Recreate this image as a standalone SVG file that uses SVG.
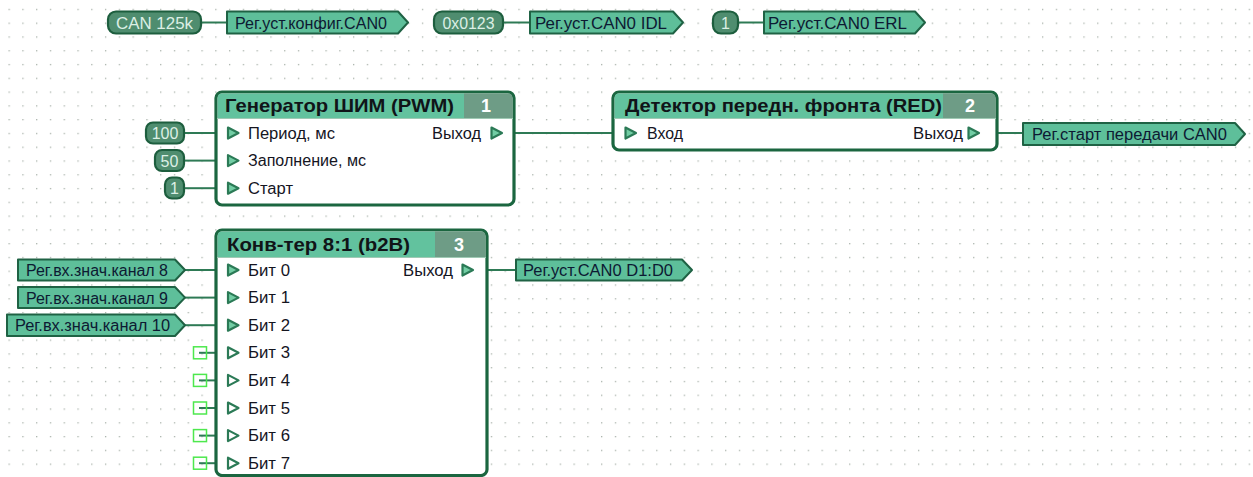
<svg xmlns="http://www.w3.org/2000/svg" width="1253" height="477" viewBox="0 0 1253 477">
<defs>
<pattern id="grid" x="8.5" y="8.8" width="13.78" height="13.78" patternUnits="userSpaceOnUse">
<rect x="0" y="0" width="1.3" height="1.3" fill="#a9b2ab"/>
</pattern>
<style>
.blk{fill:#ffffff;stroke:#1b6640;stroke-width:3.2}
.hdr{fill:#62c29e}
.num{fill:#6e9c86}
.htxt{font-family:"Liberation Sans",Arial,sans-serif;font-size:19px;font-weight:bold;fill:#101418}
.ntxt{font-family:"Liberation Sans",Arial,sans-serif;font-size:18px;font-weight:bold;fill:#ffffff;text-anchor:middle}
.lbl{font-family:"Liberation Sans",Arial,sans-serif;font-size:16px;fill:#15151f}
.pin{fill:#72cda4;stroke:#2b7a56;stroke-width:2.2;stroke-linejoin:round}
.pin0{fill:#ffffff;stroke:#2b7a56;stroke-width:2.2;stroke-linejoin:round}
.pill{fill:#4f8d6f;stroke:#1d5e3e;stroke-width:2.2}
.ptxt{font-family:"Liberation Sans",Arial,sans-serif;font-size:16px;fill:#dcefe5;text-anchor:middle}
.tag{fill:#5ebf9a;stroke:#1f6244;stroke-width:2;stroke-linejoin:round}
.ttxt{font-family:"Liberation Sans",Arial,sans-serif;font-size:16px;fill:#0d1a33}
.wire{stroke:#2e7a55;stroke-width:2;fill:none}
.stub{fill:none;stroke:#4de84d;stroke-width:1.5}
</style>
</defs>
<rect x="0" y="0" width="1253" height="477" fill="#ffffff"/>
<rect x="0" y="0" width="1253" height="477" fill="url(#grid)"/>

<g id="connectors">
<line class="wire" x1="201" y1="22.5" x2="227" y2="22.5"/>
<line class="wire" x1="503" y1="22.5" x2="530" y2="22.5"/>
<line class="wire" x1="738" y1="22.5" x2="764" y2="22.5"/>
<line class="wire" x1="184" y1="133" x2="216" y2="133"/>
<line class="wire" x1="184" y1="160.6" x2="216" y2="160.6"/>
<line class="wire" x1="184" y1="188.2" x2="216" y2="188.2"/>
<line class="wire" x1="514" y1="133" x2="613" y2="133"/>
<line class="wire" x1="997" y1="133" x2="1023" y2="133"/>
<line class="wire" x1="185" y1="270" x2="216" y2="270"/>
<line class="wire" x1="185" y1="297.6" x2="216" y2="297.6"/>
<line class="wire" x1="185" y1="325.2" x2="216" y2="325.2"/>
<line class="wire" x1="487" y1="270" x2="516" y2="270"/>
<line class="wire" x1="199" y1="352.8" x2="216" y2="352.8"/>
<line class="wire" x1="199" y1="380.4" x2="216" y2="380.4"/>
<line class="wire" x1="199" y1="408" x2="216" y2="408"/>
<line class="wire" x1="199" y1="435.6" x2="216" y2="435.6"/>
<line class="wire" x1="199" y1="463.2" x2="216" y2="463.2"/>
</g>

<g id="const_can125k">
<rect class="pill" x="108" y="11.5" width="93" height="22" rx="8"/>
<text class="ptxt" x="154.5" y="28.5" textLength="77" lengthAdjust="spacingAndGlyphs">CAN 125k</text>
</g>
<g id="tag_konfig">
<path class="tag" d="M227,11.5 H398 L408,22.5 L398,33.5 H227 Z"/>
<text class="ttxt" x="235" y="28.5" textLength="152" lengthAdjust="spacingAndGlyphs">Рег.уст.конфиг.CAN0</text>
</g>
<g id="const_0x0123">
<rect class="pill" x="434" y="11.5" width="69" height="22" rx="8"/>
<text class="ptxt" x="468.5" y="28.5" textLength="52" lengthAdjust="spacingAndGlyphs">0x0123</text>
</g>
<g id="tag_idl">
<path class="tag" d="M530,11.5 H673 L683,22.5 L673,33.5 H530 Z"/>
<text class="ttxt" x="535" y="28.5" textLength="132" lengthAdjust="spacingAndGlyphs">Рег.уст.CAN0 IDL</text>
</g>
<g id="const_1_top">
<rect class="pill" x="713" y="11.5" width="25" height="22" rx="8"/>
<text class="ptxt" x="725.5" y="28.5">1</text>
</g>
<g id="tag_erl">
<path class="tag" d="M764,11.5 H915 L925,22.5 L915,33.5 H764 Z"/>
<text class="ttxt" x="768" y="28.5" textLength="139" lengthAdjust="spacingAndGlyphs">Рег.уст.CAN0 ERL</text>
</g>

<g id="const_100">
<rect class="pill" x="146" y="122.5" width="38" height="21" rx="7"/>
<text class="ptxt" x="165" y="139">100</text>
</g>
<g id="const_50">
<rect class="pill" x="155" y="150" width="29" height="21" rx="7"/>
<text class="ptxt" x="169.5" y="166.5">50</text>
</g>
<g id="const_1">
<rect class="pill" x="165" y="177.5" width="19" height="21" rx="7"/>
<text class="ptxt" x="174.5" y="194">1</text>
</g>

<g id="block1">
<rect class="blk" x="216" y="92" width="298" height="113" rx="6"/>
<path class="hdr" d="M217.6,118 V98 Q217.6,93.6 222,93.6 H464 V118 Z"/>
<path class="num" d="M464,93.6 H508 Q512.4,93.6 512.4,98 V118 H464 Z"/>
<line x1="217" y1="118.5" x2="513" y2="118.5" stroke="#9fc9b4" stroke-width="1"/>
<text class="htxt" x="225" y="112" textLength="229" lengthAdjust="spacingAndGlyphs">Генератор ШИМ (PWM)</text>
<text class="ntxt" x="486" y="112">1</text>
<path class="pin" d="M228,127.5 L238.5,133 L228,138.5 Z"/>
<path class="pin" d="M228,155.1 L238.5,160.6 L228,166.1 Z"/>
<path class="pin" d="M228,182.7 L238.5,188.2 L228,193.7 Z"/>
<text class="lbl" x="248" y="138.5" textLength="87" lengthAdjust="spacingAndGlyphs">Период, мс</text>
<text class="lbl" x="248" y="166.1" textLength="118" lengthAdjust="spacingAndGlyphs">Заполнение, мс</text>
<text class="lbl" x="248" y="193.7" textLength="45" lengthAdjust="spacingAndGlyphs">Старт</text>
<text class="lbl" x="432" y="138.5" textLength="49" lengthAdjust="spacingAndGlyphs">Выход</text>
<path class="pin" d="M491.5,127.5 L502,133 L491.5,138.5 Z"/>
</g>

<g id="block2">
<rect class="blk" x="613" y="92" width="384" height="58" rx="6"/>
<path class="hdr" d="M614.6,118 V98 Q614.6,93.6 619,93.6 H943 V118 Z"/>
<path class="num" d="M943,93.6 H991 Q995.4,93.6 995.4,98 V118 H943 Z"/>
<line x1="614" y1="118.5" x2="996" y2="118.5" stroke="#9fc9b4" stroke-width="1"/>
<text class="htxt" x="625" y="112" textLength="317" lengthAdjust="spacingAndGlyphs">Детектор передн. фронта (RED)</text>
<text class="ntxt" x="970" y="112">2</text>
<path class="pin" d="M625.5,127.5 L636,133 L625.5,138.5 Z"/>
<text class="lbl" x="647" y="138.5" textLength="36" lengthAdjust="spacingAndGlyphs">Вход</text>
<text class="lbl" x="913" y="138.5" textLength="50" lengthAdjust="spacingAndGlyphs">Выход</text>
<path class="pin" d="M968.5,127.5 L979,133 L968.5,138.5 Z"/>
</g>
<g id="tag_start">
<path class="tag" d="M1023,123 H1235 L1245,134 L1235,145 H1023 Z"/>
<text class="ttxt" x="1032" y="140" textLength="195" lengthAdjust="spacingAndGlyphs">Рег.старт передачи CAN0</text>
</g>

<g id="tag_ch8">
<path class="tag" d="M18,259.5 H175 L185,270 L175,280.5 H18 Z"/>
<text class="ttxt" x="26" y="276" textLength="142" lengthAdjust="spacingAndGlyphs">Рег.вх.знач.канал 8</text>
</g>
<g id="tag_ch9">
<path class="tag" d="M18,287 H175 L185,297.6 L175,308 H18 Z"/>
<text class="ttxt" x="26" y="303.6" textLength="142" lengthAdjust="spacingAndGlyphs">Рег.вх.знач.канал 9</text>
</g>
<g id="tag_ch10">
<path class="tag" d="M7,314.5 H175 L185,325.2 L175,336 H7 Z"/>
<text class="ttxt" x="15" y="331.2" textLength="155" lengthAdjust="spacingAndGlyphs">Рег.вх.знач.канал 10</text>
</g>

<g id="block3">
<rect class="blk" x="216" y="230" width="271" height="245.5" rx="6"/>
<path class="hdr" d="M217.6,257 V236 Q217.6,231.6 222,231.6 H435 V257 Z"/>
<path class="num" d="M435,231.6 H481 Q485.4,231.6 485.4,236 V257 H435 Z"/>
<line x1="217" y1="257.5" x2="486" y2="257.5" stroke="#9fc9b4" stroke-width="1"/>
<text class="htxt" x="227" y="251" textLength="183" lengthAdjust="spacingAndGlyphs">Конв-тер 8:1 (b2B)</text>
<text class="ntxt" x="459" y="251">3</text>
<path class="pin" d="M228,264.5 L238.5,270 L228,275.5 Z"/>
<path class="pin" d="M228,292.1 L238.5,297.6 L228,303.1 Z"/>
<path class="pin" d="M228,319.7 L238.5,325.2 L228,330.7 Z"/>
<path class="pin0" d="M228,347.3 L238.5,352.8 L228,358.3 Z"/>
<path class="pin0" d="M228,374.9 L238.5,380.4 L228,385.9 Z"/>
<path class="pin0" d="M228,402.5 L238.5,408 L228,413.5 Z"/>
<path class="pin0" d="M228,430.1 L238.5,435.6 L228,441.1 Z"/>
<path class="pin0" d="M228,457.7 L238.5,463.2 L228,468.7 Z"/>
<text class="lbl" x="248" y="275.5" textLength="42" lengthAdjust="spacingAndGlyphs">Бит 0</text>
<text class="lbl" x="248" y="303.1" textLength="42" lengthAdjust="spacingAndGlyphs">Бит 1</text>
<text class="lbl" x="248" y="330.7" textLength="42" lengthAdjust="spacingAndGlyphs">Бит 2</text>
<text class="lbl" x="248" y="358.3" textLength="42" lengthAdjust="spacingAndGlyphs">Бит 3</text>
<text class="lbl" x="248" y="385.9" textLength="42" lengthAdjust="spacingAndGlyphs">Бит 4</text>
<text class="lbl" x="248" y="413.5" textLength="42" lengthAdjust="spacingAndGlyphs">Бит 5</text>
<text class="lbl" x="248" y="441.1" textLength="42" lengthAdjust="spacingAndGlyphs">Бит 6</text>
<text class="lbl" x="248" y="468.7" textLength="42" lengthAdjust="spacingAndGlyphs">Бит 7</text>
<text class="lbl" x="403" y="275.5" textLength="50" lengthAdjust="spacingAndGlyphs">Выход</text>
<path class="pin" d="M462.5,264.5 L473,270 L462.5,275.5 Z"/>
</g>
<g id="stubs">
<rect class="stub" x="193.5" y="346.8" width="13" height="12"/>
<rect class="stub" x="193.5" y="374.4" width="13" height="12"/>
<rect class="stub" x="193.5" y="402" width="13" height="12"/>
<rect class="stub" x="193.5" y="429.6" width="13" height="12"/>
<rect class="stub" x="193.5" y="457.2" width="13" height="12"/>
</g>
<g id="tag_d1d0">
<path class="tag" d="M516,259.5 H682 L692,270 L682,280.5 H516 Z"/>
<text class="ttxt" x="523" y="276" textLength="150" lengthAdjust="spacingAndGlyphs">Рег.уст.CAN0 D1:D0</text>
</g>
</svg>
